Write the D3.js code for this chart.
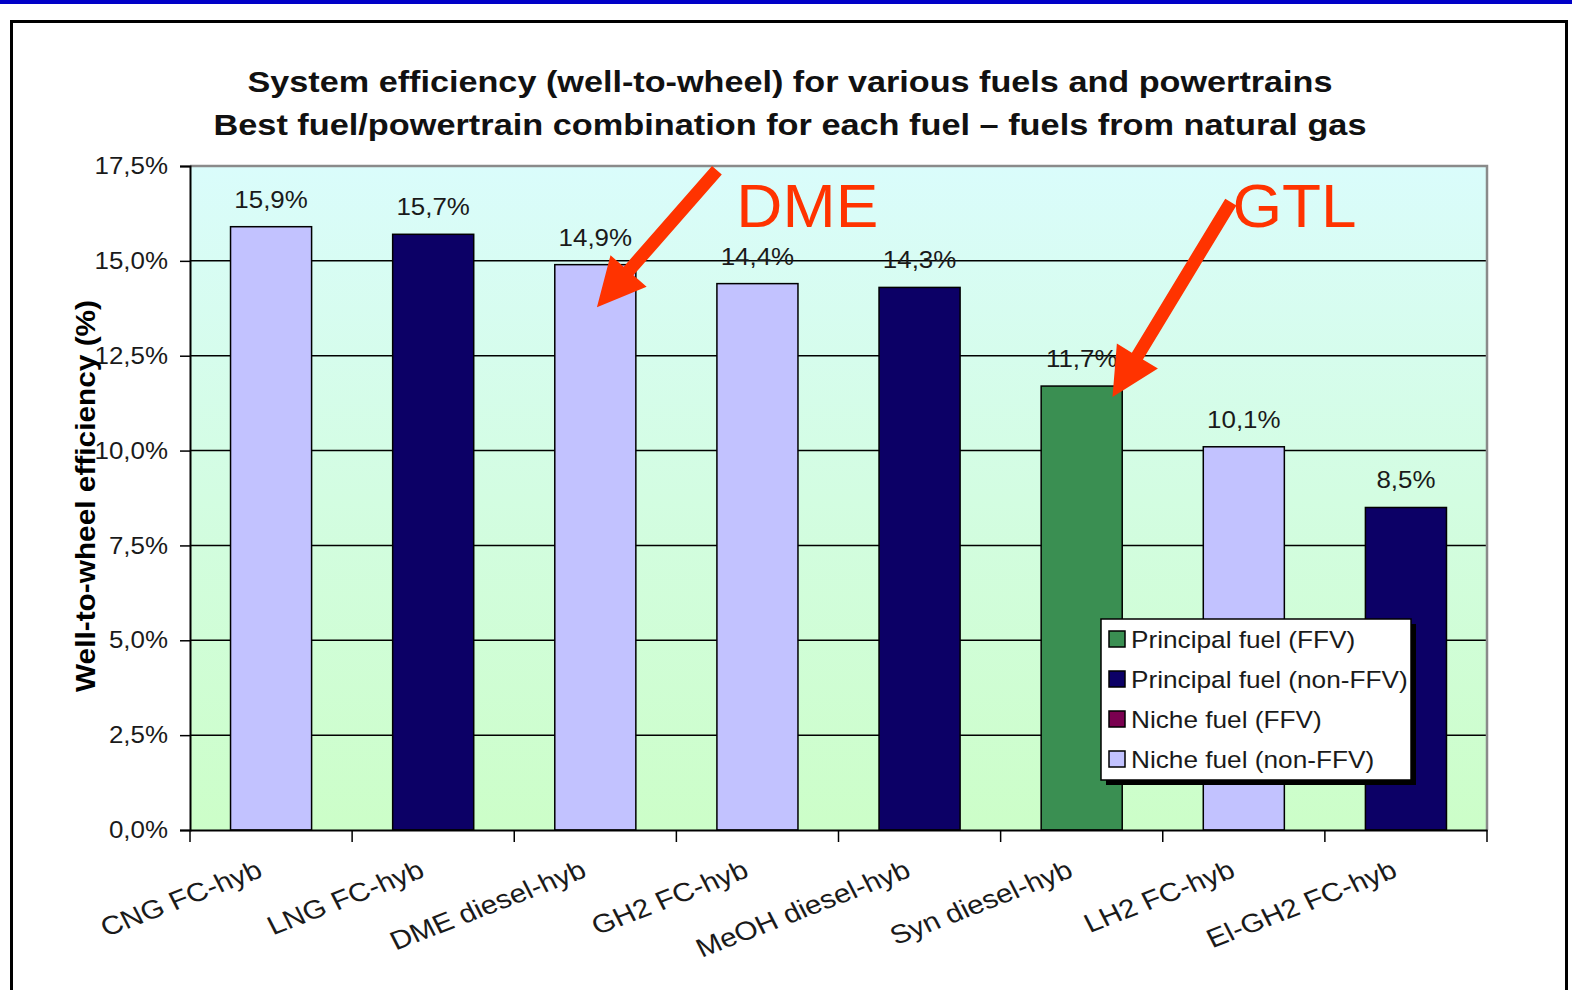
<!DOCTYPE html>
<html><head><meta charset="utf-8">
<script src="https://cdn.jsdelivr.net/npm/d3@7"></script>
<style>
html,body{margin:0;padding:0;background:#fff;}
svg{display:block;font-family:"Liberation Sans",Arial,sans-serif;}
</style></head>
<body>
<script>
const categories = ["CNG FC-hyb","LNG FC-hyb","DME diesel-hyb","GH2 FC-hyb","MeOH diesel-hyb","Syn diesel-hyb","LH2 FC-hyb","El-GH2 FC-hyb"];
const values = [15.9, 15.7, 14.9, 14.4, 14.3, 11.7, 10.1, 8.5];
const fuelTypes = ["Niche fuel (non-FFV)","Principal fuel (non-FFV)","Niche fuel (non-FFV)","Niche fuel (non-FFV)","Principal fuel (non-FFV)","Principal fuel (FFV)","Niche fuel (non-FFV)","Principal fuel (non-FFV)"];
const legendItems = ["Principal fuel (FFV)","Principal fuel (non-FFV)","Niche fuel (FFV)","Niche fuel (non-FFV)"];
const legendColors = ["#3a8f52","#0c0066","#7a0050","#c2c2ff"];
const yTicks = [0, 2.5, 5, 7.5, 10, 12.5, 15, 17.5];
const titleLines = ["System efficiency (well-to-wheel) for various fuels and powertrains","Best fuel/powertrain combination for each fuel \u2013 fuels from natural gas"];
const yTitle = "Well-to-wheel efficiency (%)";
// annotations: label position (band units, value), arrow start and tip
const annLabels = ["DME","GTL"];
const annLabelPos = [[3.37,15.89],[6.43,15.89]];
const annArrowFrom = [[3.25,17.39],[6.42,16.55]];
const annArrowTo = [[2.51,13.78],[5.69,11.41]];

(function(){
const W = 1572, H = 990;
const SX = 1.08; // horizontal stretch of the reference's glyphs
const svg = d3.select("body").append("svg").attr("width", W).attr("height", H);

svg.append("rect").attr("x",0).attr("y",0).attr("width",W).attr("height",4).attr("fill","#0000c8");
svg.append("rect").attr("x",11.5).attr("y",21.5).attr("width",1555).attr("height",1000)
  .attr("fill","#fff").attr("stroke","#000").attr("stroke-width",3);

const pL = 190, pR = 1487, pT = 166, pB = 830;
const x = d3.scaleBand().domain(categories).range([pL,pR]).paddingInner(0.5).paddingOuter(0.25);
const xi = d3.scaleLinear().domain([0, categories.length]).range([pL,pR]);
const y = d3.scaleLinear().domain([0,17.5]).range([pB,pT]);
const color = d3.scaleOrdinal().domain(legendItems).range(legendColors);
const fmt = v => d3.format(".1f")(v).replace(".", ",");

const defs = svg.append("defs");
const grad = defs.append("linearGradient").attr("id","bg").attr("x1",0).attr("y1",0).attr("x2",0).attr("y2",1);
grad.append("stop").attr("offset","0%").attr("stop-color","#dafcfb");
grad.append("stop").attr("offset","100%").attr("stop-color","#ccfec8");
svg.append("rect").attr("x",pL).attr("y",pT).attr("width",pR-pL).attr("height",pB-pT).attr("fill","url(#bg)");

svg.append("g").selectAll("line").data(yTicks.filter(t => t>0 && t<17.5)).join("line")
  .attr("x1",pL).attr("x2",pR).attr("y1",d=>y(d)).attr("y2",d=>y(d))
  .attr("stroke","#000").attr("stroke-width",1.5);
svg.append("path").attr("d",`M${pL},${pT}H${pR}V${pB}`).attr("fill","none").attr("stroke","#8a8a8a").attr("stroke-width",2.5);

svg.append("g").selectAll("rect").data(values).join("rect")
  .attr("x",(d,i)=>x(categories[i])).attr("width",x.bandwidth())
  .attr("y",d=>y(d)).attr("height",d=>y(0)-y(d))
  .attr("fill",(d,i)=>color(fuelTypes[i])).attr("stroke","#000").attr("stroke-width",1.5);

svg.append("g").selectAll("text").data(values).join("text")
  .attr("transform",(d,i)=>`translate(${x(categories[i])+x.bandwidth()/2},${y(d)-19}) scale(${SX},1)`)
  .attr("text-anchor","middle").attr("font-size",24).attr("fill","#1a1a1a").text(d=>fmt(d)+"%");

const yAxis = svg.append("g").attr("transform",`translate(${pL},0)`)
  .call(d3.axisLeft(y).tickValues(yTicks).tickSize(10).tickPadding(12).tickFormat(d=>fmt(d)+"%"));
yAxis.select(".domain").attr("stroke","#000").attr("stroke-width",2);
yAxis.selectAll(".tick line").attr("stroke","#000").attr("stroke-width",1.5);
yAxis.selectAll(".tick text").attr("font-size",24).attr("fill","#1a1a1a")
  .attr("font-family","Liberation Sans, Arial, sans-serif")
  .attr("x",null).attr("transform",`translate(-22,0) scale(${SX},1)`);

const xAxis = svg.append("g").attr("transform",`translate(0,${pB})`)
  .call(d3.axisBottom(x).tickSize(0).tickFormat(""));
xAxis.select(".domain").attr("stroke","#000").attr("stroke-width",2);
const bounds = d3.range(categories.length+1);
svg.append("g").selectAll("line").data(bounds).join("line")
  .attr("x1",d=>xi(d)).attr("x2",d=>xi(d)).attr("y1",pB).attr("y2",pB+12)
  .attr("stroke","#000").attr("stroke-width",1.5);
svg.append("g").selectAll("text").data(categories).join("text")
  .attr("transform",d=>`translate(${x(d)+x.bandwidth()/2-7},${pB+46}) scale(1.15,1) rotate(-24)`)
  .attr("text-anchor","end").attr("font-size",26).attr("fill","#1a1a1a").text(d=>d);

svg.append("text").attr("transform",`translate(95,${(pT+pB)/2-2}) rotate(-90)`)
  .attr("text-anchor","middle").attr("font-size",28).attr("font-weight","bold")
  .attr("textLength",392).attr("lengthAdjust","spacingAndGlyphs").text(yTitle);

const titleLens = [1085, 1153];
svg.append("g").selectAll("text").data(titleLines).join("text")
  .attr("x",790).attr("y",(d,i)=>92+i*43).attr("text-anchor","middle")
  .attr("font-size",29).attr("font-weight","bold").attr("fill","#111")
  .attr("textLength",(d,i)=>titleLens[i]).attr("lengthAdjust","spacingAndGlyphs").text(d=>d);

const lg = svg.append("g").attr("transform","translate(1101,619)");
lg.append("rect").attr("x",5).attr("y",5).attr("width",310).attr("height",161).attr("fill","#000");
lg.append("rect").attr("x",0).attr("y",0).attr("width",310).attr("height",161).attr("fill","#fff").attr("stroke","#000").attr("stroke-width",1.5);
const li = lg.selectAll("g.item").data(legendItems).join("g").attr("class","item")
  .attr("transform",(d,i)=>`translate(8,${20+i*40})`);
li.append("rect").attr("x",0).attr("y",-8).attr("width",16).attr("height",16)
  .attr("fill",d=>color(d)).attr("stroke","#000").attr("stroke-width",1.5);
li.append("text").attr("transform","translate(22,9) scale(1.07,1)").attr("font-size",24.5).attr("fill","#1a1a1a").text(d=>d);

const red = "#ff3300";
svg.append("g").selectAll("text").data(annLabels).join("text")
  .attr("transform",(d,i)=>`translate(${xi(annLabelPos[i][0])},${y(annLabelPos[i][1])}) scale(1.03,1)`)
  .attr("font-size",62).attr("fill",red).text(d=>d);
const arrowPath = (i) => {
  const sx = xi(annArrowFrom[i][0]), sy = y(annArrowFrom[i][1]);
  const tx = xi(annArrowTo[i][0]), ty = y(annArrowTo[i][1]);
  const dx = tx-sx, dy = ty-sy, L = Math.hypot(dx,dy);
  const ux = dx/L, uy = dy/L, nx = -uy, ny = ux;
  const hl = 48, hw = 24, sw = 6.5;
  const bx = tx-ux*hl, by = ty-uy*hl;
  return `M${sx+nx*sw},${sy+ny*sw}L${bx+nx*sw},${by+ny*sw}L${bx+nx*hw},${by+ny*hw}L${tx},${ty}L${bx-nx*hw},${by-ny*hw}L${bx-nx*sw},${by-ny*sw}L${sx-nx*sw},${sy-ny*sw}Z`;
};
svg.append("g").selectAll("path").data(annLabels).join("path")
  .attr("d",(d,i)=>arrowPath(i)).attr("fill",red);
})();
</script>
</body></html>
